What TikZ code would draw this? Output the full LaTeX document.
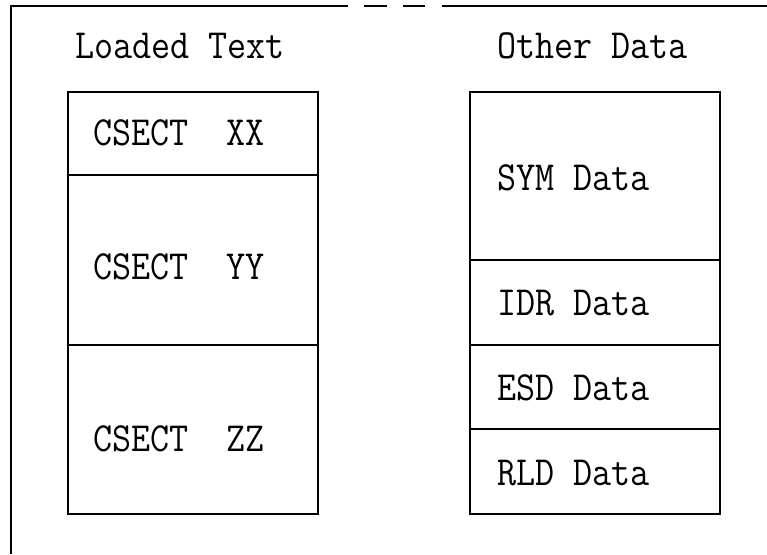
\documentclass[tikz,border=0pt]{standalone}
\usepackage{graphicx}
\newcommand{\tallt}[1]{\scalebox{1}[1.12]{#1}}
\begin{document}
\begin{tikzpicture}[x=1pt,y=-1pt,
  frameline/.style={line width=1.8pt, line cap=butt},
  cell/.style={draw, line width=1.4pt, inner sep=0pt, minimum width=250pt},
  lbl/.style={anchor=base west, inner sep=0pt, font=\fontsize{37}{40}\selectfont\ttfamily}]
\useasboundingbox (0,0) rectangle (767,554);
% outer frame (open on the right and bottom, broken on top)
\draw[frameline] (11,554) -- (11,6) -- (348,6);
\draw[frameline] (364,6) -- (387,6);
\draw[frameline] (403,6) -- (425,6);
\draw[frameline] (442,6) -- (767,6);
% titles
\node[lbl] (tload) at (75,58) {\tallt{Loaded Text}};
\node[lbl] (tother) at (497,58) {\tallt{Other Data}};
% left column
\node[cell, minimum height=83pt] (xx) at (193,133.5) {};
\node[cell, minimum height=170pt] (yy) at (193,260) {};
\node[cell, minimum height=169pt] (zz) at (193,429.5) {};
\node[lbl] (lxx) at (93,145) {\tallt{CSECT\ \ XX}};
\node[lbl] (lyy) at (93,279.5) {\tallt{CSECT\ \ YY}};
\node[lbl] (lzz) at (93,451.5) {\tallt{CSECT\ \ ZZ}};
% right column
\node[cell, minimum height=168pt] (sym) at (595,176) {};
\node[cell, minimum height=85pt] (idr) at (595,302.5) {};
\node[cell, minimum height=84pt] (esd) at (595,387) {};
\node[cell, minimum height=85pt] (rld) at (595,471.5) {};
\node[lbl] (lsym) at (497,190) {\tallt{SYM Data}};
\node[lbl] (lidr) at (497,315) {\tallt{IDR Data}};
\node[lbl] (lesd) at (497,400) {\tallt{ESD Data}};
\node[lbl] (lrld) at (497,485) {\tallt{RLD Data}};
\end{tikzpicture}
\end{document}
